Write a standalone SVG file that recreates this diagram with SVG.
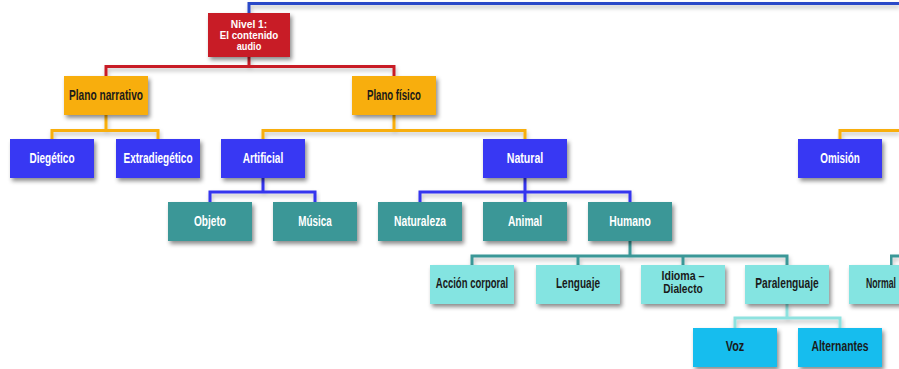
<svg xmlns="http://www.w3.org/2000/svg" width="899" height="369" viewBox="0 0 899 369">
<defs>
<filter id="sh" x="-20%" y="-20%" width="150%" height="170%">
<feDropShadow dx="2" dy="3" stdDeviation="2" flood-color="#000" flood-opacity="0.45"/>
</filter>
<filter id="lsh" x="-5%" y="-50%" width="110%" height="300%">
<feDropShadow dx="1" dy="3" stdDeviation="2" flood-color="#000" flood-opacity="0.25"/>
</filter>
<style>
.t{font-family:"Liberation Sans",Arial,sans-serif;font-weight:bold;font-size:14px;text-anchor:middle}
.s{font-size:11px}
.m{font-size:12px}
.w{fill:#ffffff}
.d{fill:#1a1a1a}
.red rect{fill:#c81f28}
.org rect{fill:#f8ae08}
.blu rect{fill:#3737f3}
.tel rect{fill:#3a9797}
.lcy rect{fill:#84e4e1}
.cyn rect{fill:#12bdee}
rect{filter:url(#sh)}
.c path{fill:none;stroke-width:3;filter:url(#lsh)}
</style>
</defs>
<g class="c" id="connectors">
<path d="M249,13 V3.5 H899" stroke="#2a48c8" stroke-width="2.5"/>
<path d="M249,57 V66.5 M106,76 V66.5 H394 V76" stroke="#c81f28"/>
<path d="M106,115 V130.5 M52,139 V130.5 H158 V139" stroke="#f8ae08"/>
<path d="M394,115 V130.5 M263,139 V130.5 H525 V139" stroke="#f8ae08"/>
<path d="M840,139 V130.5 H899" stroke="#f8ae08"/>
<path d="M263,178 V192 M210,202 V192 H315 V202" stroke="#3535ee"/>
<path d="M525,178 V202 M420,202 V192 H630 V202" stroke="#3535ee"/>
<path d="M630,241 V256 M472,265 V256 H787 V265 M578,256 V265 M683,256 V265" stroke="#3a9797"/>
<path d="M891,265 V256 H899" stroke="#3a9797"/>
<path d="M787,304 V318 M735,328 V318 H840 V328" stroke="#8ee2df"/>
</g>
<g id="nivel1" class="red"><rect x="208" y="13" width="82" height="44"/>
<text class="t s w" x="249" y="27.5" textLength="36.5" lengthAdjust="spacingAndGlyphs">Nivel 1:</text>
<text class="t s w" x="249" y="38.7" textLength="58.5" lengthAdjust="spacingAndGlyphs">El contenido</text>
<text class="t s w" x="249" y="49.5" textLength="24.5" lengthAdjust="spacingAndGlyphs">audio</text></g>
<g id="plano-narrativo" class="org"><rect x="64" y="76" width="84" height="39"/><text class="t d" x="106" y="99.5" textLength="74" lengthAdjust="spacingAndGlyphs">Plano narrativo</text></g>
<g id="plano-fisico" class="org"><rect x="352" y="76" width="84" height="39"/><text class="t d" x="394" y="99.5" textLength="54" lengthAdjust="spacingAndGlyphs">Plano físico</text></g>
<g id="diegetico" class="blu"><rect x="10" y="139" width="84" height="39"/><text class="t w" x="52" y="162.5" textLength="45" lengthAdjust="spacingAndGlyphs">Diegético</text></g>
<g id="extradiegetico" class="blu"><rect x="116" y="139" width="84" height="39"/><text class="t w" x="158" y="162.5" textLength="69" lengthAdjust="spacingAndGlyphs">Extradiegético</text></g>
<g id="artificial" class="blu"><rect x="221" y="139" width="84" height="39"/><text class="t w" x="263" y="162.5" textLength="40.5" lengthAdjust="spacingAndGlyphs">Artificial</text></g>
<g id="natural" class="blu"><rect x="483" y="139" width="84" height="39"/><text class="t w" x="525" y="162.5" textLength="36.5" lengthAdjust="spacingAndGlyphs">Natural</text></g>
<g id="omision" class="blu"><rect x="798" y="139" width="84" height="39"/><text class="t w" x="840" y="162.5" textLength="39.5" lengthAdjust="spacingAndGlyphs">Omisión</text></g>
<g id="objeto" class="tel"><rect x="168" y="202" width="84" height="39"/><text class="t w" x="210" y="225.5" textLength="32" lengthAdjust="spacingAndGlyphs">Objeto</text></g>
<g id="musica" class="tel"><rect x="273" y="202" width="84" height="39"/><text class="t w" x="315" y="225.5" textLength="33.5" lengthAdjust="spacingAndGlyphs">Música</text></g>
<g id="naturaleza" class="tel"><rect x="378" y="202" width="84" height="39"/><text class="t w" x="420" y="225.5" textLength="52" lengthAdjust="spacingAndGlyphs">Naturaleza</text></g>
<g id="animal" class="tel"><rect x="483" y="202" width="84" height="39"/><text class="t w" x="525" y="225.5" textLength="34" lengthAdjust="spacingAndGlyphs">Animal</text></g>
<g id="humano" class="tel"><rect x="588" y="202" width="84" height="39"/><text class="t w" x="630" y="225.5" textLength="41.5" lengthAdjust="spacingAndGlyphs">Humano</text></g>
<g id="accion-corporal" class="lcy"><rect x="430" y="265" width="84" height="39"/><text class="t d" x="472" y="288" textLength="72.5" lengthAdjust="spacingAndGlyphs">Acción corporal</text></g>
<g id="lenguaje" class="lcy"><rect x="536" y="265" width="84" height="39"/><text class="t d" x="578" y="288" textLength="44" lengthAdjust="spacingAndGlyphs">Lenguaje</text></g>
<g id="idioma-dialecto" class="lcy"><rect x="641" y="265" width="84" height="39"/><text class="t m d" x="683" y="279.5" textLength="43" lengthAdjust="spacingAndGlyphs">Idioma –</text><text class="t m d" x="683" y="293.3" textLength="39.5" lengthAdjust="spacingAndGlyphs">Dialecto</text></g>
<g id="paralenguaje" class="lcy"><rect x="745" y="265" width="84" height="39"/><text class="t d" x="787" y="288" textLength="63.5" lengthAdjust="spacingAndGlyphs">Paralenguaje</text></g>
<g id="normal" class="lcy"><rect x="849" y="265" width="84" height="39"/><text class="t d" x="866" y="288" style="text-anchor:start" textLength="30" lengthAdjust="spacingAndGlyphs">Normal</text></g>
<g id="voz" class="cyn"><rect x="693" y="328" width="84" height="39"/><text class="t d" x="735" y="351" textLength="18.5" lengthAdjust="spacingAndGlyphs">Voz</text></g>
<g id="alternantes" class="cyn"><rect x="798" y="328" width="84" height="39"/><text class="t d" x="840" y="351" textLength="57" lengthAdjust="spacingAndGlyphs">Alternantes</text></g>
</svg>
